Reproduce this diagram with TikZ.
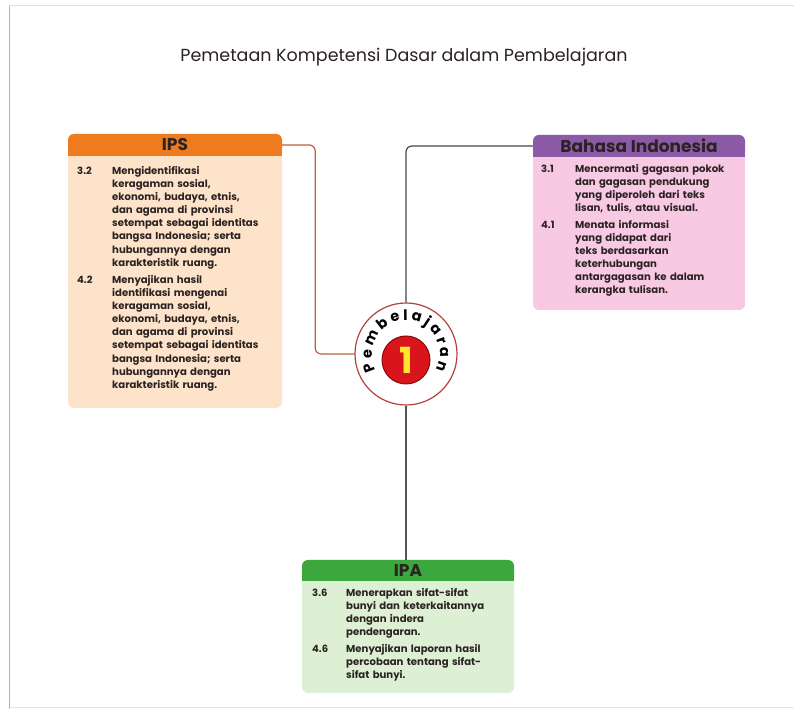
\documentclass[tikz,border=0pt]{standalone}
\usepackage{fontspec}
\setmainfont{Poppins}
\usetikzlibrary{decorations.text}
\definecolor{ipsHead}{HTML}{EE7B1E}
\definecolor{ipsBody}{HTML}{FDE3CA}
\definecolor{ipsLine}{HTML}{B9613F}
\definecolor{bahHead}{HTML}{8C5BA8}
\definecolor{bahBody}{HTML}{F7C9E3}
\definecolor{bahLine}{HTML}{4A4350}
\definecolor{ipaHead}{HTML}{3CA73C}
\definecolor{ipaBody}{HTML}{DDF0D4}
\definecolor{ipaLine}{HTML}{555555}
\definecolor{ink}{HTML}{2B2222}
\definecolor{circRim}{HTML}{B0443A}
\definecolor{diskRed}{HTML}{D8141C}
\definecolor{diskRim}{HTML}{8E0A0A}
\definecolor{digit}{HTML}{FFE62E}
\begin{document}
\begin{tikzpicture}[x=1pt,y=1pt,
  headtext/.style={inner sep=0pt, minimum height=22pt, font=\fontsize{17}{19}\selectfont\bfseries, text=ink},
  numtext/.style={anchor=base west, inner sep=0pt, font=\fontsize{10}{13.1}\selectfont\bfseries, text=ink},
  itemtext/.style={anchor=base west, inner sep=0pt, text width=172pt, align=left, font=\fontsize{10.1}{13.1}\selectfont\bfseries, text=ink},
  conn/.style={line width=1.2pt, rounded corners=6pt},
]
\useasboundingbox (0,0) rectangle (794,709);
% page frame
\draw[black!12, line width=1pt] (9,703) -- (794,703);
\draw[black!10, line width=1pt] (9,1.5) -- (794,1.5);
\draw[black!30, line width=1.5pt] (9.5,0) -- (9.5,703);

\node[anchor=base, font=\fontsize{17.5}{19}\selectfont, text=ink] (title) at (404,647) {Pemetaan Kompetensi Dasar dalam Pembelajaran};

% IPS box
\fill[ipsBody, rounded corners=6pt] (68,301) rectangle (282,575);
\fill[ipsHead, rounded corners=6pt] (68,553) rectangle (282,575);
\fill[ipsHead] (68,553) rectangle (282,562);
\node[headtext, minimum width=214pt] (ipsH) at (175,564) {IPS};
\node[numtext] (ips32n) at (77,534.5) {3.2};
\node[itemtext] (ips32) at (112,534.5) {Mengidentifikasi\\keragaman sosial,\\ekonomi, budaya, etnis,\\dan agama di provinsi\\setempat sebagai identitas\\bangsa Indonesia; serta\\hubungannya dengan\\karakteristik ruang.};
\node[numtext] (ips42n) at (77,425.5) {4.2};
\node[itemtext] (ips42) at (112,425.5) {Menyajikan hasil\\identifikasi mengenai\\keragaman sosial,\\ekonomi, budaya, etnis,\\dan agama di provinsi\\setempat sebagai identitas\\bangsa Indonesia; serta\\hubungannya dengan\\karakteristik ruang.};

% Bahasa Indonesia box
\fill[bahBody, rounded corners=6pt] (533,399) rectangle (745,574);
\fill[bahHead, rounded corners=6pt] (533,552) rectangle (745,574);
\fill[bahHead] (533,552) rectangle (745,561);
\node[headtext, minimum width=212pt] (bahH) at (639,563) {Bahasa Indonesia};
\node[numtext] (bah31n) at (541,536.5) {3.1};
\node[itemtext] (bah31) at (575,536.5) {Mencermati gagasan pokok\\dan gagasan pendukung\\yang diperoleh dari teks\\lisan, tulis, atau visual.};
\node[numtext] (bah41n) at (541,480.5) {4.1};
\node[itemtext] (bah41) at (575,480.5) {Menata informasi\\yang didapat dari\\teks berdasarkan\\keterhubungan\\antargagasan ke dalam\\kerangka tulisan.};

% IPA box
\fill[ipaBody, rounded corners=6pt] (302,16) rectangle (514,149);
\fill[ipaHead, rounded corners=6pt] (302,128) rectangle (514,149);
\fill[ipaHead] (302,128) rectangle (514,137);
\node[headtext, minimum width=212pt, minimum height=21pt] (ipaH) at (408,138.5) {IPA};
\node[numtext] (ipa36n) at (312,112.5) {3.6};
\node[itemtext] (ipa36) at (346,112.5) {Menerapkan sifat-sifat\\bunyi dan keterkaitannya\\dengan indera\\pendengaran.};
\node[numtext] (ipa46n) at (312,56.5) {4.6};
\node[itemtext] (ipa46) at (346,56.5) {Menyajikan laporan hasil\\percobaan tentang sifat-\\sifat bunyi.};

% central circle
\node[circle, draw=circRim, fill=white, line width=1.2pt, minimum size=102pt, inner sep=0pt] (circ) at (406,355) {};
\node[circle, draw=diskRim, fill=diskRed, line width=1pt, minimum size=48pt, inner sep=0pt, text=digit, font=\fontsize{36}{36}\selectfont\bfseries] (one) at (406,349) {1};
\path[decorate, decoration={text along path, text={|\fontsize{14.5}{14.5}\selectfont\bfseries|Pembelajaran}, text align=fit to path}]
  ([shift={(208:34)}]circ.center) arc[start angle=208, end angle=-28, radius=34];

% connectors
\draw[conn, ipsLine] (ipsH.east) -- ++(33,0) |- (circ.west);
\draw[conn, bahLine] (circ.north) |- (bahH.west);
\draw[conn, ipaLine] (circ.south) -- (circ.south |- ipaH.north);
\end{tikzpicture}
\end{document}
